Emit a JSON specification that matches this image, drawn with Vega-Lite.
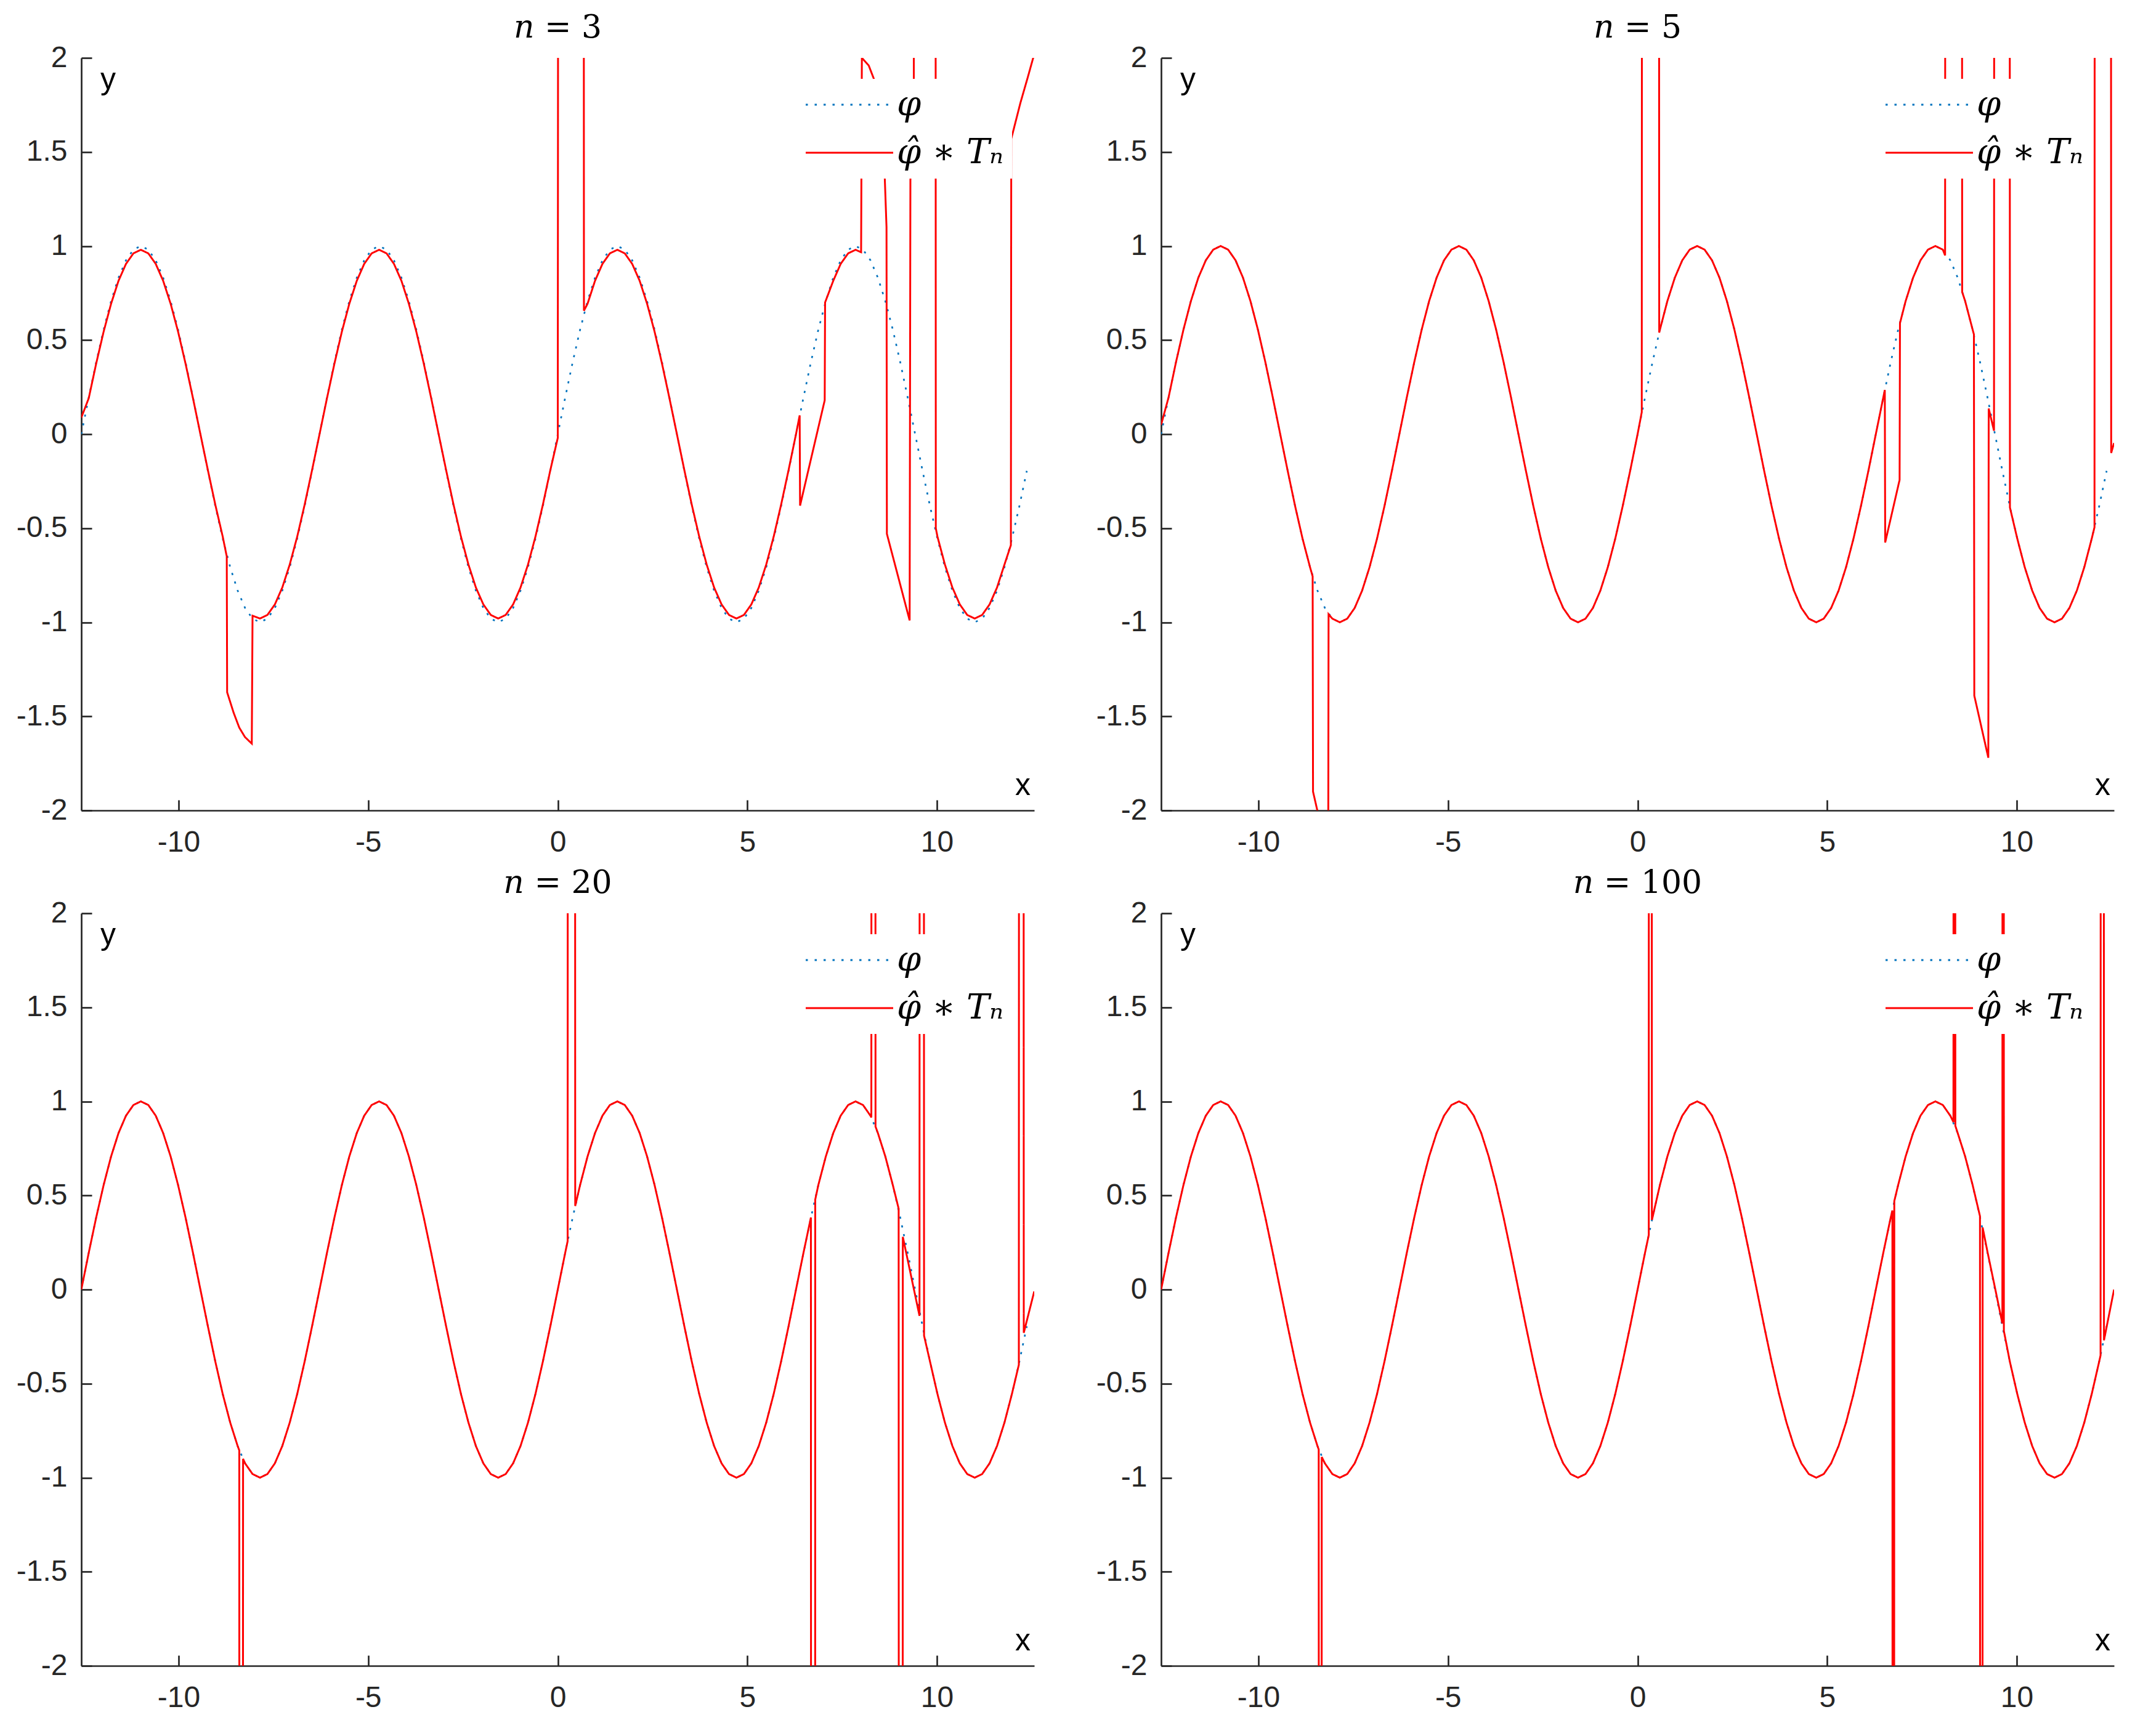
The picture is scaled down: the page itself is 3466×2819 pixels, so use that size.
{
  "$schema": "https://vega.github.io/schema/vega-lite/v6.json",
  "background": "white",
  "padding": {"left": 26, "top": 19, "right": 10, "bottom": 10},
  "bounds": "flush",
  "columns": 2,
  "spacing": {"row": 167, "column": 206},
  "resolve": {
    "scale": {"color": "independent", "strokeDash": "independent", "x": "independent", "y": "independent"},
    "legend": {"color": "independent", "strokeDash": "independent"}
  },
  "config": {
    "view": {"stroke": null},
    "font": "Liberation Sans",
    "axis": {
      "domainColor": "#262626", "domainWidth": 2.7, "tickColor": "#262626", "tickWidth": 2.7, "tickSize": -17,
      "labelFont": "Liberation Sans", "labelFontSize": 48, "labelColor": "#262626", "grid": false,
      "titleFont": "Liberation Sans", "titleFontSize": 50, "titleFontWeight": "normal", "titleColor": "#000000",
      "labelFlush": false, "labelOverlap": false,
      "labelExpr": "replace(format(datum.value, '~g'), '\u2212', '-')"
    },
    "title": {"font": "DejaVu Serif", "fontSize": 52, "fontWeight": "normal", "color": "#000000", "anchor": "middle", "frame": "group", "baseline": "alphabetic", "offset": 0, "dy": 6},
    "legend": {
      "orient": "none", "legendX": 1170, "legendY": 34, "fillColor": "white", "padding": 14, "rowPadding": 22,
      "symbolType": "M-3,0H3", "symbolSize": 2240, "symbolStrokeWidth": 3, "symbolOffset": 35, "labelOffset": 49,
      "labelFont": "DejaVu Serif", "labelFontStyle": "italic", "labelFontSize": 56, "labelColor": "#000000", "labelLimit": 600
    }
  },
  "datasets": {
    "phi": [
      {"x":-12.566,"y":0},{"x":-12.370,"y":0.1951},{"x":-12.174,"y":0.3827},{"x":-11.977,"y":0.5556},{"x":-11.781,"y":0.7071},{"x":-11.585,"y":0.8315},{"x":-11.388,"y":0.9239},{"x":-11.192,"y":0.9808},{"x":-10.996,"y":1},{"x":-10.799,"y":0.9808},{"x":-10.603,"y":0.9239},{"x":-10.407,"y":0.8315},{"x":-10.210,"y":0.7071},{"x":-10.014,"y":0.5556},{"x":-9.817,"y":0.3827},{"x":-9.621,"y":0.1951},{"x":-9.425,"y":0},{"x":-9.228,"y":-0.1951},{"x":-9.032,"y":-0.3827},{"x":-8.836,"y":-0.5556},{"x":-8.639,"y":-0.7071},{"x":-8.443,"y":-0.8315},{"x":-8.247,"y":-0.9239},{"x":-8.050,"y":-0.9808},{"x":-7.854,"y":-1},{"x":-7.658,"y":-0.9808},{"x":-7.461,"y":-0.9239},{"x":-7.265,"y":-0.8315},{"x":-7.069,"y":-0.7071},{"x":-6.872,"y":-0.5556},{"x":-6.676,"y":-0.3827},{"x":-6.480,"y":-0.1951},{"x":-6.283,"y":0},{"x":-6.087,"y":0.1951},{"x":-5.890,"y":0.3827},{"x":-5.694,"y":0.5556},{"x":-5.498,"y":0.7071},{"x":-5.301,"y":0.8315},{"x":-5.105,"y":0.9239},{"x":-4.909,"y":0.9808},{"x":-4.712,"y":1},{"x":-4.516,"y":0.9808},{"x":-4.320,"y":0.9239},{"x":-4.123,"y":0.8315},{"x":-3.927,"y":0.7071},{"x":-3.731,"y":0.5556},{"x":-3.534,"y":0.3827},{"x":-3.338,"y":0.1951},{"x":-3.142,"y":0},{"x":-2.945,"y":-0.1951},{"x":-2.749,"y":-0.3827},{"x":-2.553,"y":-0.5556},{"x":-2.356,"y":-0.7071},{"x":-2.160,"y":-0.8315},{"x":-1.963,"y":-0.9239},{"x":-1.767,"y":-0.9808},{"x":-1.571,"y":-1},{"x":-1.374,"y":-0.9808},{"x":-1.178,"y":-0.9239},{"x":-0.982,"y":-0.8315},{"x":-0.785,"y":-0.7071},{"x":-0.589,"y":-0.5556},{"x":-0.393,"y":-0.3827},{"x":-0.196,"y":-0.1951},{"x":0,"y":0},{"x":0.196,"y":0.1951},{"x":0.393,"y":0.3827},{"x":0.589,"y":0.5556},{"x":0.785,"y":0.7071},{"x":0.982,"y":0.8315},{"x":1.178,"y":0.9239},{"x":1.374,"y":0.9808},{"x":1.571,"y":1},{"x":1.767,"y":0.9808},{"x":1.963,"y":0.9239},{"x":2.160,"y":0.8315},{"x":2.356,"y":0.7071},{"x":2.553,"y":0.5556},{"x":2.749,"y":0.3827},{"x":2.945,"y":0.1951},{"x":3.142,"y":0},{"x":3.338,"y":-0.1951},{"x":3.534,"y":-0.3827},{"x":3.731,"y":-0.5556},{"x":3.927,"y":-0.7071},{"x":4.123,"y":-0.8315},{"x":4.320,"y":-0.9239},{"x":4.516,"y":-0.9808},{"x":4.712,"y":-1},{"x":4.909,"y":-0.9808},{"x":5.105,"y":-0.9239},{"x":5.301,"y":-0.8315},{"x":5.498,"y":-0.7071},{"x":5.694,"y":-0.5556},{"x":5.890,"y":-0.3827},{"x":6.087,"y":-0.1951},{"x":6.283,"y":0},{"x":6.480,"y":0.1951},{"x":6.676,"y":0.3827},{"x":6.872,"y":0.5556},{"x":7.069,"y":0.7071},{"x":7.265,"y":0.8315},{"x":7.461,"y":0.9239},{"x":7.658,"y":0.9808},{"x":7.854,"y":1},{"x":8.050,"y":0.9808},{"x":8.247,"y":0.9239},{"x":8.443,"y":0.8315},{"x":8.639,"y":0.7071},{"x":8.836,"y":0.5556},{"x":9.032,"y":0.3827},{"x":9.228,"y":0.1951},{"x":9.425,"y":0},{"x":9.621,"y":-0.1951},{"x":9.817,"y":-0.3827},{"x":10.014,"y":-0.5556},{"x":10.210,"y":-0.7071},{"x":10.407,"y":-0.8315},{"x":10.603,"y":-0.9239},{"x":10.799,"y":-0.9808},{"x":10.996,"y":-1},{"x":11.192,"y":-0.9808},{"x":11.388,"y":-0.9239},{"x":11.585,"y":-0.8315},{"x":11.781,"y":-0.7071},{"x":11.977,"y":-0.5556},{"x":12.174,"y":-0.3827},{"x":12.370,"y":-0.1951}
    ],
    "r3": [
      {"x":-12.566,"y":0.088},{"x":-12.370,"y":0.191},{"x":-12.174,"y":0.375},{"x":-11.977,"y":0.545},{"x":-11.781,"y":0.693},{"x":-11.585,"y":0.815},{"x":-11.388,"y":0.905},{"x":-11.192,"y":0.961},{"x":-10.996,"y":0.98},{"x":-10.799,"y":0.961},{"x":-10.603,"y":0.905},{"x":-10.407,"y":0.815},{"x":-10.210,"y":0.693},{"x":-10.014,"y":0.545},{"x":-9.817,"y":0.375},{"x":-9.621,"y":0.191},{"x":-9.425,"y":0},{"x":-9.228,"y":-0.191},{"x":-9.032,"y":-0.375},{"x":-8.836,"y":-0.545},
      {"x":-8.73,"y":-0.65},{"x":-8.72,"y":-1.372},{"x":-8.55,"y":-1.48},{"x":-8.40,"y":-1.56},{"x":-8.25,"y":-1.61},{"x":-8.07,"y":-1.645},{"x":-8.05,"y":-0.965},
      {"x":-7.854,"y":-0.98},{"x":-7.658,"y":-0.961},{"x":-7.461,"y":-0.905},{"x":-7.265,"y":-0.815},{"x":-7.069,"y":-0.693},{"x":-6.872,"y":-0.545},{"x":-6.676,"y":-0.375},{"x":-6.480,"y":-0.191},{"x":-6.283,"y":0},{"x":-6.087,"y":0.191},{"x":-5.890,"y":0.375},{"x":-5.694,"y":0.545},{"x":-5.498,"y":0.693},{"x":-5.301,"y":0.815},{"x":-5.105,"y":0.905},{"x":-4.909,"y":0.961},{"x":-4.712,"y":0.98},{"x":-4.516,"y":0.961},{"x":-4.320,"y":0.905},{"x":-4.123,"y":0.815},{"x":-3.927,"y":0.693},{"x":-3.731,"y":0.545},{"x":-3.534,"y":0.375},{"x":-3.338,"y":0.191},{"x":-3.142,"y":0},{"x":-2.945,"y":-0.191},{"x":-2.749,"y":-0.375},{"x":-2.553,"y":-0.545},{"x":-2.356,"y":-0.693},{"x":-2.160,"y":-0.815},{"x":-1.963,"y":-0.905},{"x":-1.767,"y":-0.961},{"x":-1.571,"y":-0.98},{"x":-1.374,"y":-0.961},{"x":-1.178,"y":-0.905},{"x":-0.982,"y":-0.815},{"x":-0.785,"y":-0.693},{"x":-0.589,"y":-0.545},{"x":-0.393,"y":-0.375},{"x":-0.196,"y":-0.191},
      {"x":0,"y":-0.02},{"x":0.02,"y":6},{"x":0.68,"y":6},{"x":0.69,"y":0.656},
      {"x":0.785,"y":0.693},{"x":0.982,"y":0.815},{"x":1.178,"y":0.905},{"x":1.374,"y":0.961},{"x":1.571,"y":0.98},{"x":1.767,"y":0.961},{"x":1.963,"y":0.905},{"x":2.160,"y":0.815},{"x":2.356,"y":0.693},{"x":2.553,"y":0.545},{"x":2.749,"y":0.375},{"x":2.945,"y":0.191},{"x":3.142,"y":0},{"x":3.338,"y":-0.191},{"x":3.534,"y":-0.375},{"x":3.731,"y":-0.545},{"x":3.927,"y":-0.693},{"x":4.123,"y":-0.815},{"x":4.320,"y":-0.905},{"x":4.516,"y":-0.961},{"x":4.712,"y":-0.98},{"x":4.909,"y":-0.961},{"x":5.105,"y":-0.905},{"x":5.301,"y":-0.815},{"x":5.498,"y":-0.693},{"x":5.694,"y":-0.545},{"x":5.890,"y":-0.375},{"x":6.087,"y":-0.191},{"x":6.283,"y":0},
      {"x":6.38,"y":0.10},{"x":6.39,"y":-0.38},{"x":7.04,"y":0.18},{"x":7.05,"y":0.70},
      {"x":7.265,"y":0.815},{"x":7.461,"y":0.905},{"x":7.658,"y":0.961},{"x":7.854,"y":0.98},{"x":8.00,"y":0.967},
      {"x":8.02,"y":2.0},{"x":8.2,"y":1.96},{"x":8.41,"y":1.85},{"x":8.6,"y":1.5},{"x":8.67,"y":1.1},{"x":8.68,"y":-0.53},{"x":9.28,"y":-0.99},{"x":9.30,"y":1.35},{"x":9.39,"y":1.85},{"x":9.40,"y":6},{"x":9.96,"y":6},{"x":9.97,"y":-0.50},
      {"x":10.014,"y":-0.545},{"x":10.210,"y":-0.693},{"x":10.407,"y":-0.815},{"x":10.603,"y":-0.905},{"x":10.799,"y":-0.961},{"x":10.996,"y":-0.98},{"x":11.192,"y":-0.961},{"x":11.388,"y":-0.905},{"x":11.585,"y":-0.815},{"x":11.781,"y":-0.693},
      {"x":11.95,"y":-0.59},{"x":11.96,"y":1.57},{"x":12.2,"y":1.76},{"x":12.4,"y":1.9},{"x":12.566,"y":2.02}
    ],
    "r5": [
      {"x":-12.566,"y":0.05},{"x":-12.370,"y":0.1951},{"x":-12.174,"y":0.3827},{"x":-11.977,"y":0.5556},{"x":-11.781,"y":0.7071},{"x":-11.585,"y":0.8315},{"x":-11.388,"y":0.9239},{"x":-11.192,"y":0.9808},{"x":-10.996,"y":1},{"x":-10.799,"y":0.9808},{"x":-10.603,"y":0.9239},{"x":-10.407,"y":0.8315},{"x":-10.210,"y":0.7071},{"x":-10.014,"y":0.5556},{"x":-9.817,"y":0.3827},{"x":-9.621,"y":0.1951},{"x":-9.425,"y":0},{"x":-9.228,"y":-0.1951},{"x":-9.032,"y":-0.3827},{"x":-8.836,"y":-0.5556},{"x":-8.639,"y":-0.7071},
      {"x":-8.57,"y":-0.756},{"x":-8.56,"y":-1.90},{"x":-8.39,"y":-2.05},{"x":-8.30,"y":-2.4},{"x":-8.16,"y":-2.4},{"x":-8.15,"y":-0.957},
      {"x":-8.050,"y":-0.9808},{"x":-7.854,"y":-1},{"x":-7.658,"y":-0.9808},{"x":-7.461,"y":-0.9239},{"x":-7.265,"y":-0.8315},{"x":-7.069,"y":-0.7071},{"x":-6.872,"y":-0.5556},{"x":-6.676,"y":-0.3827},{"x":-6.480,"y":-0.1951},{"x":-6.283,"y":0},{"x":-6.087,"y":0.1951},{"x":-5.890,"y":0.3827},{"x":-5.694,"y":0.5556},{"x":-5.498,"y":0.7071},{"x":-5.301,"y":0.8315},{"x":-5.105,"y":0.9239},{"x":-4.909,"y":0.9808},{"x":-4.712,"y":1},{"x":-4.516,"y":0.9808},{"x":-4.320,"y":0.9239},{"x":-4.123,"y":0.8315},{"x":-3.927,"y":0.7071},{"x":-3.731,"y":0.5556},{"x":-3.534,"y":0.3827},{"x":-3.338,"y":0.1951},{"x":-3.142,"y":0},{"x":-2.945,"y":-0.1951},{"x":-2.749,"y":-0.3827},{"x":-2.553,"y":-0.5556},{"x":-2.356,"y":-0.7071},{"x":-2.160,"y":-0.8315},{"x":-1.963,"y":-0.9239},{"x":-1.767,"y":-0.9808},{"x":-1.571,"y":-1},{"x":-1.374,"y":-0.9808},{"x":-1.178,"y":-0.9239},{"x":-0.982,"y":-0.8315},{"x":-0.785,"y":-0.7071},{"x":-0.589,"y":-0.5556},{"x":-0.393,"y":-0.3827},{"x":-0.196,"y":-0.1951},{"x":0,"y":0},
      {"x":0.11,"y":0.117},{"x":0.12,"y":6},{"x":0.56,"y":6},{"x":0.57,"y":0.54},
      {"x":0.589,"y":0.5556},{"x":0.785,"y":0.7071},{"x":0.982,"y":0.8315},{"x":1.178,"y":0.9239},{"x":1.374,"y":0.9808},{"x":1.571,"y":1},{"x":1.767,"y":0.9808},{"x":1.963,"y":0.9239},{"x":2.160,"y":0.8315},{"x":2.356,"y":0.7071},{"x":2.553,"y":0.5556},{"x":2.749,"y":0.3827},{"x":2.945,"y":0.1951},{"x":3.142,"y":0},{"x":3.338,"y":-0.1951},{"x":3.534,"y":-0.3827},{"x":3.731,"y":-0.5556},{"x":3.927,"y":-0.7071},{"x":4.123,"y":-0.8315},{"x":4.320,"y":-0.9239},{"x":4.516,"y":-0.9808},{"x":4.712,"y":-1},{"x":4.909,"y":-0.9808},{"x":5.105,"y":-0.9239},{"x":5.301,"y":-0.8315},{"x":5.498,"y":-0.7071},{"x":5.694,"y":-0.5556},{"x":5.890,"y":-0.3827},{"x":6.087,"y":-0.1951},{"x":6.283,"y":0},{"x":6.480,"y":0.1951},
      {"x":6.52,"y":0.235},{"x":6.53,"y":-0.576},{"x":6.91,"y":-0.243},{"x":6.92,"y":0.59},
      {"x":7.069,"y":0.7071},{"x":7.265,"y":0.8315},{"x":7.461,"y":0.9239},{"x":7.658,"y":0.9808},{"x":7.854,"y":1},{"x":8.050,"y":0.9808},
      {"x":8.11,"y":0.95},{"x":8.12,"y":6},{"x":8.55,"y":6},{"x":8.56,"y":0.756},{"x":8.639,"y":0.7071},{"x":8.836,"y":0.5556},{"x":8.87,"y":0.53},{"x":8.88,"y":-1.39},{"x":9.25,"y":-1.72},{"x":9.26,"y":0.136},{"x":9.40,"y":0.018},{"x":9.41,"y":6},{"x":9.81,"y":6},{"x":9.82,"y":-0.39},
      {"x":10.014,"y":-0.5556},{"x":10.210,"y":-0.7071},{"x":10.407,"y":-0.8315},{"x":10.603,"y":-0.9239},{"x":10.799,"y":-0.9808},{"x":10.996,"y":-1},{"x":11.192,"y":-0.9808},{"x":11.388,"y":-0.9239},{"x":11.585,"y":-0.8315},{"x":11.781,"y":-0.7071},{"x":11.977,"y":-0.5556},
      {"x":12.05,"y":-0.495},{"x":12.06,"y":6},{"x":12.48,"y":6},{"x":12.49,"y":-0.10},{"x":12.566,"y":-0.047}
    ],
    "r20": [
      {"x":-12.566,"y":0},{"x":-12.370,"y":0.1951},{"x":-12.174,"y":0.3827},{"x":-11.977,"y":0.5556},{"x":-11.781,"y":0.7071},{"x":-11.585,"y":0.8315},{"x":-11.388,"y":0.9239},{"x":-11.192,"y":0.9808},{"x":-10.996,"y":1},{"x":-10.799,"y":0.9808},{"x":-10.603,"y":0.9239},{"x":-10.407,"y":0.8315},{"x":-10.210,"y":0.7071},{"x":-10.014,"y":0.5556},{"x":-9.817,"y":0.3827},{"x":-9.621,"y":0.1951},{"x":-9.425,"y":0},{"x":-9.228,"y":-0.1951},{"x":-9.032,"y":-0.3827},{"x":-8.836,"y":-0.5556},{"x":-8.639,"y":-0.7071},{"x":-8.443,"y":-0.8315},
      {"x":-8.40,"y":-0.855},{"x":-8.39,"y":-8},{"x":-8.31,"y":-8},{"x":-8.30,"y":-0.90},
      {"x":-8.247,"y":-0.9239},{"x":-8.050,"y":-0.9808},{"x":-7.854,"y":-1},{"x":-7.658,"y":-0.9808},{"x":-7.461,"y":-0.9239},{"x":-7.265,"y":-0.8315},{"x":-7.069,"y":-0.7071},{"x":-6.872,"y":-0.5556},{"x":-6.676,"y":-0.3827},{"x":-6.480,"y":-0.1951},{"x":-6.283,"y":0},{"x":-6.087,"y":0.1951},{"x":-5.890,"y":0.3827},{"x":-5.694,"y":0.5556},{"x":-5.498,"y":0.7071},{"x":-5.301,"y":0.8315},{"x":-5.105,"y":0.9239},{"x":-4.909,"y":0.9808},{"x":-4.712,"y":1},{"x":-4.516,"y":0.9808},{"x":-4.320,"y":0.9239},{"x":-4.123,"y":0.8315},{"x":-3.927,"y":0.7071},{"x":-3.731,"y":0.5556},{"x":-3.534,"y":0.3827},{"x":-3.338,"y":0.1951},{"x":-3.142,"y":0},{"x":-2.945,"y":-0.1951},{"x":-2.749,"y":-0.3827},{"x":-2.553,"y":-0.5556},{"x":-2.356,"y":-0.7071},{"x":-2.160,"y":-0.8315},{"x":-1.963,"y":-0.9239},{"x":-1.767,"y":-0.9808},{"x":-1.571,"y":-1},{"x":-1.374,"y":-0.9808},{"x":-1.178,"y":-0.9239},{"x":-0.982,"y":-0.8315},{"x":-0.785,"y":-0.7071},{"x":-0.589,"y":-0.5556},{"x":-0.393,"y":-0.3827},{"x":-0.196,"y":-0.1951},{"x":0,"y":0},{"x":0.196,"y":0.1951},
      {"x":0.26,"y":0.257},{"x":0.27,"y":8},{"x":0.45,"y":8},{"x":0.46,"y":0.444},
      {"x":0.589,"y":0.5556},{"x":0.785,"y":0.7071},{"x":0.982,"y":0.8315},{"x":1.178,"y":0.9239},{"x":1.374,"y":0.9808},{"x":1.571,"y":1},{"x":1.767,"y":0.9808},{"x":1.963,"y":0.9239},{"x":2.160,"y":0.8315},{"x":2.356,"y":0.7071},{"x":2.553,"y":0.5556},{"x":2.749,"y":0.3827},{"x":2.945,"y":0.1951},{"x":3.142,"y":0},{"x":3.338,"y":-0.1951},{"x":3.534,"y":-0.3827},{"x":3.731,"y":-0.5556},{"x":3.927,"y":-0.7071},{"x":4.123,"y":-0.8315},{"x":4.320,"y":-0.9239},{"x":4.516,"y":-0.9808},{"x":4.712,"y":-1},{"x":4.909,"y":-0.9808},{"x":5.105,"y":-0.9239},{"x":5.301,"y":-0.8315},{"x":5.498,"y":-0.7071},{"x":5.694,"y":-0.5556},{"x":5.890,"y":-0.3827},{"x":6.087,"y":-0.1951},{"x":6.283,"y":0},{"x":6.480,"y":0.1951},{"x":6.676,"y":0.3827},
      {"x":6.685,"y":-8},{"x":6.785,"y":-8},{"x":6.79,"y":0.478},
      {"x":6.872,"y":0.5556},{"x":7.069,"y":0.7071},{"x":7.265,"y":0.8315},{"x":7.461,"y":0.9239},{"x":7.658,"y":0.9808},{"x":7.854,"y":1},{"x":8.050,"y":0.9808},{"x":8.247,"y":0.9239},
      {"x":8.27,"y":0.915},{"x":8.28,"y":8},{"x":8.37,"y":8},{"x":8.38,"y":0.866},
      {"x":8.443,"y":0.8315},{"x":8.639,"y":0.7071},{"x":8.836,"y":0.5556},
      {"x":8.99,"y":0.43},{"x":9.00,"y":-8},{"x":9.09,"y":-8},{"x":9.10,"y":0.28},{"x":9.228,"y":0.158},{"x":9.425,"y":-0.03},{"x":9.54,"y":-0.14},{"x":9.55,"y":8},{"x":9.65,"y":8},{"x":9.66,"y":-0.245},
      {"x":9.817,"y":-0.3827},{"x":10.014,"y":-0.5556},{"x":10.210,"y":-0.7071},{"x":10.407,"y":-0.8315},{"x":10.603,"y":-0.9239},{"x":10.799,"y":-0.9808},{"x":10.996,"y":-1},{"x":11.192,"y":-0.9808},{"x":11.388,"y":-0.9239},{"x":11.585,"y":-0.8315},{"x":11.781,"y":-0.7071},{"x":11.977,"y":-0.5556},
      {"x":12.16,"y":-0.40},{"x":12.17,"y":8},{"x":12.28,"y":8},{"x":12.29,"y":-0.23},{"x":12.566,"y":-0.01}
    ],
    "r100": [
      {"x":-12.566,"y":0},{"x":-12.370,"y":0.1951},{"x":-12.174,"y":0.3827},{"x":-11.977,"y":0.5556},{"x":-11.781,"y":0.7071},{"x":-11.585,"y":0.8315},{"x":-11.388,"y":0.9239},{"x":-11.192,"y":0.9808},{"x":-10.996,"y":1},{"x":-10.799,"y":0.9808},{"x":-10.603,"y":0.9239},{"x":-10.407,"y":0.8315},{"x":-10.210,"y":0.7071},{"x":-10.014,"y":0.5556},{"x":-9.817,"y":0.3827},{"x":-9.621,"y":0.1951},{"x":-9.425,"y":0},{"x":-9.228,"y":-0.1951},{"x":-9.032,"y":-0.3827},{"x":-8.836,"y":-0.5556},{"x":-8.639,"y":-0.7071},{"x":-8.443,"y":-0.8315},
      {"x":-8.41,"y":-0.85},{"x":-8.40,"y":-8},{"x":-8.34,"y":-8},{"x":-8.33,"y":-0.89},
      {"x":-8.247,"y":-0.9239},{"x":-8.050,"y":-0.9808},{"x":-7.854,"y":-1},{"x":-7.658,"y":-0.9808},{"x":-7.461,"y":-0.9239},{"x":-7.265,"y":-0.8315},{"x":-7.069,"y":-0.7071},{"x":-6.872,"y":-0.5556},{"x":-6.676,"y":-0.3827},{"x":-6.480,"y":-0.1951},{"x":-6.283,"y":0},{"x":-6.087,"y":0.1951},{"x":-5.890,"y":0.3827},{"x":-5.694,"y":0.5556},{"x":-5.498,"y":0.7071},{"x":-5.301,"y":0.8315},{"x":-5.105,"y":0.9239},{"x":-4.909,"y":0.9808},{"x":-4.712,"y":1},{"x":-4.516,"y":0.9808},{"x":-4.320,"y":0.9239},{"x":-4.123,"y":0.8315},{"x":-3.927,"y":0.7071},{"x":-3.731,"y":0.5556},{"x":-3.534,"y":0.3827},{"x":-3.338,"y":0.1951},{"x":-3.142,"y":0},{"x":-2.945,"y":-0.1951},{"x":-2.749,"y":-0.3827},{"x":-2.553,"y":-0.5556},{"x":-2.356,"y":-0.7071},{"x":-2.160,"y":-0.8315},{"x":-1.963,"y":-0.9239},{"x":-1.767,"y":-0.9808},{"x":-1.571,"y":-1},{"x":-1.374,"y":-0.9808},{"x":-1.178,"y":-0.9239},{"x":-0.982,"y":-0.8315},{"x":-0.785,"y":-0.7071},{"x":-0.589,"y":-0.5556},{"x":-0.393,"y":-0.3827},{"x":-0.196,"y":-0.1951},{"x":0,"y":0},{"x":0.196,"y":0.1951},
      {"x":0.295,"y":0.29},{"x":0.30,"y":8},{"x":0.37,"y":8},{"x":0.377,"y":0.37},
      {"x":0.393,"y":0.3827},{"x":0.589,"y":0.5556},{"x":0.785,"y":0.7071},{"x":0.982,"y":0.8315},{"x":1.178,"y":0.9239},{"x":1.374,"y":0.9808},{"x":1.571,"y":1},{"x":1.767,"y":0.9808},{"x":1.963,"y":0.9239},{"x":2.160,"y":0.8315},{"x":2.356,"y":0.7071},{"x":2.553,"y":0.5556},{"x":2.749,"y":0.3827},{"x":2.945,"y":0.1951},{"x":3.142,"y":0},{"x":3.338,"y":-0.1951},{"x":3.534,"y":-0.3827},{"x":3.731,"y":-0.5556},{"x":3.927,"y":-0.7071},{"x":4.123,"y":-0.8315},{"x":4.320,"y":-0.9239},{"x":4.516,"y":-0.9808},{"x":4.712,"y":-1},{"x":4.909,"y":-0.9808},{"x":5.105,"y":-0.9239},{"x":5.301,"y":-0.8315},{"x":5.498,"y":-0.7071},{"x":5.694,"y":-0.5556},{"x":5.890,"y":-0.3827},{"x":6.087,"y":-0.1951},{"x":6.283,"y":0},{"x":6.480,"y":0.1951},{"x":6.676,"y":0.3827},
      {"x":6.72,"y":0.42},{"x":6.73,"y":-8},{"x":6.76,"y":-8},{"x":6.77,"y":0.47},
      {"x":6.872,"y":0.5556},{"x":7.069,"y":0.7071},{"x":7.265,"y":0.8315},{"x":7.461,"y":0.9239},{"x":7.658,"y":0.9808},{"x":7.854,"y":1},{"x":8.050,"y":0.9808},{"x":8.247,"y":0.9239},
      {"x":8.33,"y":0.89},{"x":8.34,"y":8},{"x":8.37,"y":8},{"x":8.38,"y":0.87},
      {"x":8.443,"y":0.8315},{"x":8.639,"y":0.7071},{"x":8.836,"y":0.5556},
      {"x":9.03,"y":0.39},{"x":9.04,"y":-8},{"x":9.09,"y":-8},{"x":9.10,"y":0.33},{"x":9.228,"y":0.2},{"x":9.425,"y":0.01},{"x":9.62,"y":-0.18},{"x":9.63,"y":8},{"x":9.655,"y":8},{"x":9.66,"y":-0.22},
      {"x":9.817,"y":-0.3827},{"x":10.014,"y":-0.5556},{"x":10.210,"y":-0.7071},{"x":10.407,"y":-0.8315},{"x":10.603,"y":-0.9239},{"x":10.799,"y":-0.9808},{"x":10.996,"y":-1},{"x":11.192,"y":-0.9808},{"x":11.388,"y":-0.9239},{"x":11.585,"y":-0.8315},{"x":11.781,"y":-0.7071},{"x":11.977,"y":-0.5556},{"x":12.174,"y":-0.3827},
      {"x":12.21,"y":-0.35},{"x":12.22,"y":8},{"x":12.29,"y":8},{"x":12.30,"y":-0.27},{"x":12.566,"y":0}
    ]
  },
  "concat": [
    {
      "width": 1547, "height": 1222,
      "title": {"text": "\ud835\udc5b = 3"},
      "encoding": {
        "x": {"field": "x", "type": "quantitative", "scale": {"domain": [-12.566, 12.566], "nice": false, "zero": false}, "axis": {"values": [-10, -5, 0, 5, 10], "title": "x", "titleX": 1528, "titleY": -26, "titleAngle": 0, "titleAlign": "center", "titleBaseline": "alphabetic", "labelPadding": 45}},
        "y": {"field": "y", "type": "quantitative", "scale": {"domain": [-2, 2], "nice": false, "zero": false}, "axis": {"values": [-2, -1.5, -1, -0.5, 0, 0.5, 1, 1.5, 2], "title": "y", "titleX": 43, "titleY": 50, "titleAngle": 0, "titleAlign": "center", "titleBaseline": "alphabetic", "labelPadding": 40}}
      },
      "layer": [
        {"data": {"name": "phi"}, "mark": {"type": "line", "clip": true, "strokeWidth": 2.7, "strokeCap": "butt"},
         "encoding": {"color": {"datum": "\u03c6", "type": "nominal", "scale": {"domain": ["\u03c6", "\u03c6\u0302 \u2217 T\u2099"], "range": ["#0072BD", "#FF0000"]}, "legend": {"title": null}},
                      "strokeDash": {"datum": "\u03c6", "type": "nominal", "scale": {"domain": ["\u03c6", "\u03c6\u0302 \u2217 T\u2099"], "range": [[3.5, 11], [1, 0]]}, "legend": {"title": null}}}},
        {"data": {"name": "r3"}, "mark": {"type": "line", "clip": true, "strokeWidth": 3},
         "encoding": {"color": {"datum": "\u03c6\u0302 \u2217 T\u2099", "type": "nominal"},
                      "strokeDash": {"datum": "\u03c6\u0302 \u2217 T\u2099", "type": "nominal"}}}
      ]
    },
    {
      "width": 1547, "height": 1222,
      "title": {"text": "\ud835\udc5b = 5"},
      "encoding": {
        "x": {"field": "x", "type": "quantitative", "scale": {"domain": [-12.566, 12.566], "nice": false, "zero": false}, "axis": {"values": [-10, -5, 0, 5, 10], "title": "x", "titleX": 1528, "titleY": -26, "titleAngle": 0, "titleAlign": "center", "titleBaseline": "alphabetic", "labelPadding": 45}},
        "y": {"field": "y", "type": "quantitative", "scale": {"domain": [-2, 2], "nice": false, "zero": false}, "axis": {"values": [-2, -1.5, -1, -0.5, 0, 0.5, 1, 1.5, 2], "title": "y", "titleX": 43, "titleY": 50, "titleAngle": 0, "titleAlign": "center", "titleBaseline": "alphabetic", "labelPadding": 40}}
      },
      "layer": [
        {"data": {"name": "phi"}, "mark": {"type": "line", "clip": true, "strokeWidth": 2.7, "strokeCap": "butt"},
         "encoding": {"color": {"datum": "\u03c6", "type": "nominal", "scale": {"domain": ["\u03c6", "\u03c6\u0302 \u2217 T\u2099"], "range": ["#0072BD", "#FF0000"]}, "legend": {"title": null}},
                      "strokeDash": {"datum": "\u03c6", "type": "nominal", "scale": {"domain": ["\u03c6", "\u03c6\u0302 \u2217 T\u2099"], "range": [[3.5, 11], [1, 0]]}, "legend": {"title": null}}}},
        {"data": {"name": "r5"}, "mark": {"type": "line", "clip": true, "strokeWidth": 3},
         "encoding": {"color": {"datum": "\u03c6\u0302 \u2217 T\u2099", "type": "nominal"},
                      "strokeDash": {"datum": "\u03c6\u0302 \u2217 T\u2099", "type": "nominal"}}}
      ]
    },
    {
      "width": 1547, "height": 1222,
      "title": {"text": "\ud835\udc5b = 20"},
      "encoding": {
        "x": {"field": "x", "type": "quantitative", "scale": {"domain": [-12.566, 12.566], "nice": false, "zero": false}, "axis": {"values": [-10, -5, 0, 5, 10], "title": "x", "titleX": 1528, "titleY": -26, "titleAngle": 0, "titleAlign": "center", "titleBaseline": "alphabetic", "labelPadding": 45}},
        "y": {"field": "y", "type": "quantitative", "scale": {"domain": [-2, 2], "nice": false, "zero": false}, "axis": {"values": [-2, -1.5, -1, -0.5, 0, 0.5, 1, 1.5, 2], "title": "y", "titleX": 43, "titleY": 50, "titleAngle": 0, "titleAlign": "center", "titleBaseline": "alphabetic", "labelPadding": 40}}
      },
      "layer": [
        {"data": {"name": "phi"}, "mark": {"type": "line", "clip": true, "strokeWidth": 2.7, "strokeCap": "butt"},
         "encoding": {"color": {"datum": "\u03c6", "type": "nominal", "scale": {"domain": ["\u03c6", "\u03c6\u0302 \u2217 T\u2099"], "range": ["#0072BD", "#FF0000"]}, "legend": {"title": null}},
                      "strokeDash": {"datum": "\u03c6", "type": "nominal", "scale": {"domain": ["\u03c6", "\u03c6\u0302 \u2217 T\u2099"], "range": [[3.5, 11], [1, 0]]}, "legend": {"title": null}}}},
        {"data": {"name": "r20"}, "mark": {"type": "line", "clip": true, "strokeWidth": 3},
         "encoding": {"color": {"datum": "\u03c6\u0302 \u2217 T\u2099", "type": "nominal"},
                      "strokeDash": {"datum": "\u03c6\u0302 \u2217 T\u2099", "type": "nominal"}}}
      ]
    },
    {
      "width": 1547, "height": 1222,
      "title": {"text": "\ud835\udc5b = 100"},
      "encoding": {
        "x": {"field": "x", "type": "quantitative", "scale": {"domain": [-12.566, 12.566], "nice": false, "zero": false}, "axis": {"values": [-10, -5, 0, 5, 10], "title": "x", "titleX": 1528, "titleY": -26, "titleAngle": 0, "titleAlign": "center", "titleBaseline": "alphabetic", "labelPadding": 45}},
        "y": {"field": "y", "type": "quantitative", "scale": {"domain": [-2, 2], "nice": false, "zero": false}, "axis": {"values": [-2, -1.5, -1, -0.5, 0, 0.5, 1, 1.5, 2], "title": "y", "titleX": 43, "titleY": 50, "titleAngle": 0, "titleAlign": "center", "titleBaseline": "alphabetic", "labelPadding": 40}}
      },
      "layer": [
        {"data": {"name": "phi"}, "mark": {"type": "line", "clip": true, "strokeWidth": 2.7, "strokeCap": "butt"},
         "encoding": {"color": {"datum": "\u03c6", "type": "nominal", "scale": {"domain": ["\u03c6", "\u03c6\u0302 \u2217 T\u2099"], "range": ["#0072BD", "#FF0000"]}, "legend": {"title": null}},
                      "strokeDash": {"datum": "\u03c6", "type": "nominal", "scale": {"domain": ["\u03c6", "\u03c6\u0302 \u2217 T\u2099"], "range": [[3.5, 11], [1, 0]]}, "legend": {"title": null}}}},
        {"data": {"name": "r100"}, "mark": {"type": "line", "clip": true, "strokeWidth": 3},
         "encoding": {"color": {"datum": "\u03c6\u0302 \u2217 T\u2099", "type": "nominal"},
                      "strokeDash": {"datum": "\u03c6\u0302 \u2217 T\u2099", "type": "nominal"}}}
      ]
    }
  ]
}
